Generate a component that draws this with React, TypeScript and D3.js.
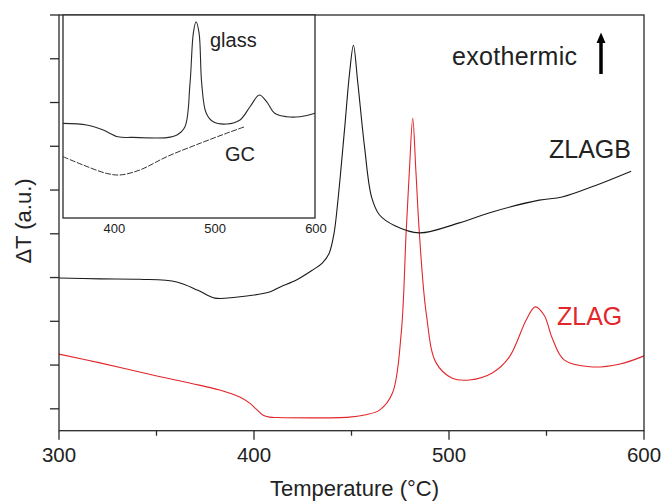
import React from "react";
import * as d3 from "d3";

// Main chart: ZLAGB (black) and ZLAG (red) DTA curves
const zlagbT = [300, 321, 341.5, 360.4, 371.2, 379.9, 390.6, 408, 413.2, 422, 430, 435, 438.5, 441, 442.9, 446.4, 449, 451, 453.1, 456.7, 460.3, 464.4, 472, 484.8, 505.3, 522.2, 546.3, 558, 575.5, 593.4];
const zlagbV = [2.99, 2.97, 2.96, 2.9, 2.71, 2.53, 2.55, 2.67, 2.78, 2.95, 3.17, 3.33, 3.55, 4.0, 4.7, 6.37, 7.67, 8.31, 7.51, 5.98, 4.84, 4.43, 4.19, 4.02, 4.25, 4.5, 4.77, 4.84, 5.11, 5.43];

const zlagT = [300, 321, 350.2, 368, 382.4, 392.7, 397.8, 401, 404.5, 408, 412, 449, 456.7, 464.4, 471, 475.5, 478, 479.7, 481.4, 483, 484.8, 488.3, 493.4, 501.7, 510.4, 522.2, 530.9, 539.6, 544.2, 548.8, 552.9, 559, 572.4, 587.2, 600];
const zlagV = [1.25, 1.05, 0.75, 0.58, 0.43, 0.27, 0.13, 0.0, -0.14, -0.19, -0.2, -0.19, -0.14, -0.03, 0.36, 1.73, 4.02, 5.45, 6.64, 5.45, 4.02, 2.19, 1.05, 0.7, 0.66, 0.82, 1.18, 2.03, 2.33, 2.14, 1.62, 1.12, 0.96, 1.02, 1.21];

// Inset: glass and GC
const glassT = [350, 373.5, 390, 404.6, 419, 453, 463, 471, 476, 479.3, 482, 485, 487.6, 492, 499, 512.4, 525.6, 535.5, 544.8, 552, 560, 572, 585, 600];
const glassV = [4.66, 4.58, 4.33, 4.0, 3.97, 3.96, 4.09, 4.5, 6.63, 9.11, 9.67, 9.11, 6.63, 5.17, 4.74, 4.63, 4.83, 5.48, 6.06, 5.73, 5.16, 4.99, 4.99, 5.16];
const gcT = [350, 370, 393, 406.5, 426, 453, 486, 512, 530.5];
const gcV = [3.02, 2.61, 2.2, 2.12, 2.36, 3.02, 3.68, 4.17, 4.5];

const xTicksMajor = [300, 400, 500, 600];
const xTicksMinor = [350, 450, 550];
const yTicks = [0, 1, 2, 3, 4, 5, 6, 7, 8, 9];
const insetTicks = [400, 500, 600];

const FONT = "'Liberation Sans', Arial, Helvetica, sans-serif";

export default function App() {
  const W = 662, H = 503;
  const left = 59, right = 644, top = 15, bottom = 430.7;
  const x = d3.scaleLinear().domain([300, 600]).range([left, right]);
  const y = d3.scaleLinear().domain([-0.5, 9]).range([bottom, top]);

  const ix0 = 63, ix1 = 315, iy0 = 15, iy1 = 218;
  const ix = d3.scaleLinear().domain([350, 600]).range([ix0, ix1]);
  const iy = d3.scaleLinear().domain([0, 10]).range([iy1, iy0]);

  const path = (ts: number[], vs: number[], sx: any, sy: any) =>
    d3
      .line<number>()
      .x((_, i) => sx(ts[i]))
      .y((_, i) => sy(vs[i]))
      .curve(d3.curveCatmullRom.alpha(0.5))(ts) as string;

  return (
    <svg
      width={W}
      height={H}
      style={{ position: "absolute", left: 0, top: 0, background: "#fff" }}
      fontFamily={FONT}
    >
      <rect x={0} y={0} width={W} height={H} fill="#fff" />
      {/* curves */}
      <path d={path(zlagT, zlagV, x, y)} fill="none" stroke="#e3262b" strokeWidth={1.1} />
      <path d={path(zlagbT, zlagbV, x, y)} fill="none" stroke="#1a1a1a" strokeWidth={1.1} />

      {/* frame */}
      <rect x={left} y={top} width={right - left} height={bottom - top} fill="none" stroke="#2a2a2a" strokeWidth={1.3} />

      {/* y ticks */}
      {yTicks.map((t) => (
        <line key={"y" + t} x1={left - 9} x2={left} y1={y(t)} y2={y(t)} stroke="#2a2a2a" strokeWidth={1.3} />
      ))}
      {/* x ticks */}
      {xTicksMajor.map((t) => (
        <line key={"xM" + t} x1={x(t)} x2={x(t)} y1={bottom} y2={bottom + 9} stroke="#2a2a2a" strokeWidth={1.3} />
      ))}
      {xTicksMinor.map((t) => (
        <line key={"xm" + t} x1={x(t)} x2={x(t)} y1={bottom} y2={bottom + 5} stroke="#2a2a2a" strokeWidth={1.3} />
      ))}
      {xTicksMajor.map((t) => (
        <text key={"xl" + t} x={x(t)} y={462} fontSize={20.5} textAnchor="middle" fill="#222">
          {t}
        </text>
      ))}

      <text x={354.5} y={496} fontSize={22} textAnchor="middle" fill="#222">
        Temperature (°C)
      </text>
      <text transform="translate(31,221) rotate(-90)" fontSize={22} textAnchor="middle" fill="#222">
        ΔT (a.u.)
      </text>

      {/* annotations */}
      <text x={452} y={65} fontSize={25} fill="#222" textLength={125}>
        exothermic
      </text>
      <line x1={601} x2={601} y1={74} y2={40} stroke="#000" strokeWidth={3.5} />
      <path d="M596.5,43 L601,32.5 L605.5,43 Z" fill="#000" />
      <text x={549} y={158} fontSize={25} fill="#222">
        ZLAGB
      </text>
      <text x={557} y={325} fontSize={25} fill="#e3262b">
        ZLAG
      </text>

      {/* inset */}
      <rect x={ix0} y={iy0} width={ix1 - ix0} height={iy1 - iy0} fill="#fff" stroke="#2a2a2a" strokeWidth={1.3} />
      <path d={path(glassT, glassV, ix, iy)} fill="none" stroke="#2a2a2a" strokeWidth={1.1} />
      <path d={path(gcT, gcV, ix, iy)} fill="none" stroke="#333" strokeWidth={1} strokeDasharray="6 1.5" />
      {insetTicks.map((t) => (
        <text key={"il" + t} x={ix(t) + 1} y={233} fontSize={13} textAnchor="middle" fill="#222">
          {t}
        </text>
      ))}
      <text x={210} y={47} fontSize={20} fill="#222">
        glass
      </text>
      <text x={225} y={161} fontSize={20} fill="#222">
        GC
      </text>
    </svg>
  );
}
